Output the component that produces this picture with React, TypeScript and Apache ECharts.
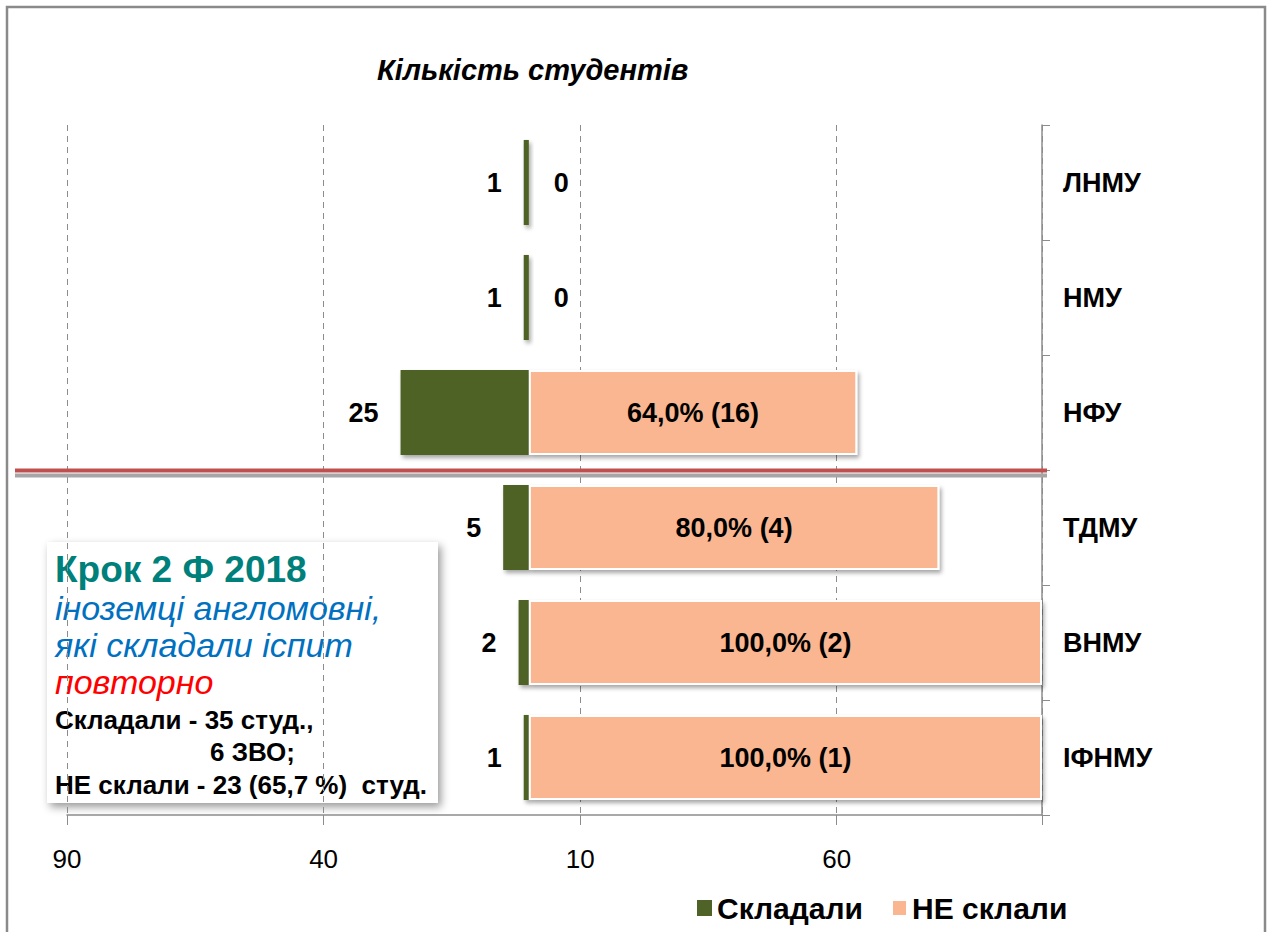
import React, { useEffect, useRef } from "react";
import * as echarts from "echarts";

const categories = ["ЛНМУ", "НМУ", "НФУ", "ТДМУ", "ВНМУ", "ІФНМУ"];
const tookExam = [1, 1, 25, 5, 2, 1];
const failedCount = [0, 0, 16, 4, 2, 1];
const failedPct = [0, 0, 64.0, 80.0, 100.0, 100.0];
const seriesNames = ["Складали", "НЕ склали"];
const axisMin = -90;
const axisMax = 100;
const axisStep = 50;
const chartTitle = "Кількість студентів";
const boxLines = [
  "Крок 2 Ф 2018",
  "іноземці англомовні,",
  "які складали іспит",
  "повторно",
  "Складали - 35 студ.,",
  "6 ЗВО;",
  "НЕ склали - 23 (65,7 %)  студ.",
];

const FONT = "'Liberation Sans', Arial, sans-serif";
const GREEN = "#4F6228";
const SALMON = "#F9B690";

export default function App() {
  const ref = useRef<HTMLDivElement>(null);

  useEffect(() => {
    if (!ref.current) return;
    const chart = echarts.init(ref.current, null, { renderer: "svg" });
    const shadow = {
      shadowBlur: 4,
      shadowOffsetX: 2,
      shadowOffsetY: 3,
      shadowColor: "rgba(0,0,0,0.35)",
    };
    const boxText = (
      text: string,
      x: number,
      y: number,
      size: number,
      color: string,
      italic: boolean,
      bold: boolean
    ) => ({
      type: "text",
      x,
      y,
      style: {
        text,
        fontFamily: FONT,
        fontSize: size,
        fontStyle: italic ? "italic" : "normal",
        fontWeight: bold ? "bold" : "normal",
        fill: color,
        verticalAlign: "middle",
      },
    });
    const option: any = {
      animation: false,
      backgroundColor: "#ffffff",
      title: {
        text: chartTitle,
        left: 372,
        top: 50,
        textStyle: {
          fontFamily: FONT,
          fontSize: 29,
          fontStyle: "italic",
          fontWeight: "bold",
          color: "#000",
        },
      },
      legend: {
        left: 692,
        top: 888,
        itemWidth: 15,
        itemHeight: 16,
        itemGap: 28,
        icon: "rect",
        data: seriesNames,
        textStyle: {
          fontFamily: FONT,
          fontSize: 30,
          fontWeight: "bold",
          color: "#000",
        },
      },
      grid: { left: 67, right: 228, top: 125, bottom: 117, containLabel: false },
      xAxis: {
        type: "value",
        min: axisMin,
        max: axisMax,
        interval: axisStep,
        axisLine: { show: true, lineStyle: { color: "#8C8C8C", width: 1.5 } },
        axisTick: { show: true, length: 10, lineStyle: { color: "#8C8C8C" } },
        axisLabel: {
          margin: 31,
          fontFamily: FONT,
          fontSize: 26,
          color: "#000",
          formatter: (v: number) => (v === axisMax ? "" : String(Math.abs(v))),
        },
        splitLine: {
          show: true,
          lineStyle: { color: "#8C8C8C", type: [6, 5], width: 1 },
        },
      },
      yAxis: {
        type: "category",
        data: categories,
        inverse: true,
        position: "right",
        axisLine: {
          show: true,
          onZero: false,
          lineStyle: { color: "#8C8C8C", width: 1.5 },
        },
        axisTick: { show: true, length: 8, lineStyle: { color: "#8C8C8C" } },
        axisLabel: {
          margin: 21,
          fontFamily: FONT,
          fontSize: 27,
          fontWeight: "bold",
          color: "#000",
        },
        splitLine: { show: false },
      },
      series: [
        {
          name: seriesNames[0],
          type: "bar",
          barWidth: "74%",
          barGap: "-100%",
          data: tookExam.map((v) => -v),
          itemStyle: { color: GREEN, ...shadow },
          label: {
            show: true,
            position: "left",
            distance: 22,
            fontFamily: FONT,
            fontSize: 27,
            fontWeight: "bold",
            color: "#000",
            formatter: (p: any) => String(Math.abs(p.value)),
          },
        },
        {
          name: seriesNames[1],
          type: "bar",
          barWidth: "74%",
          barGap: "-100%",
          data: failedPct.map((v) =>
            v === 0
              ? { value: v, label: { position: "right", distance: 24 } }
              : { value: v }
          ),
          itemStyle: {
            color: SALMON,
            borderColor: "#ffffff",
            borderWidth: 2,
            ...shadow,
          },
          label: {
            show: true,
            position: "inside",
            fontFamily: FONT,
            fontSize: 27,
            fontWeight: "bold",
            color: "#000",
            formatter: (p: any) => {
              const v = failedPct[p.dataIndex];
              if (v === 0) return "0";
              return `${v.toFixed(1).replace(".", ",")}% (${failedCount[p.dataIndex]})`;
            },
          },
        },
      ],
      graphic: [
        {
          type: "rect",
          z: 100,
          silent: true,
          shape: { x: 7, y: 7, width: 1258, height: 950 },
          style: { fill: "rgba(0,0,0,0)", stroke: "#8A8A8A", lineWidth: 2.5 },
        },
        {
          type: "line",
          z: 50,
          shape: { x1: 15, y1: 475.5, x2: 1047, y2: 475.5 },
          style: { stroke: "#A6A6A6", lineWidth: 4 },
        },
        {
          type: "line",
          z: 51,
          shape: { x1: 15, y1: 470.5, x2: 1047, y2: 470.5 },
          style: { stroke: "#C0504D", lineWidth: 4 },
        },
        {
          type: "group",
          z: 60,
          children: [
            {
              type: "rect",
              shape: { x: 47, y: 542, width: 391, height: 261 },
              style: {
                fill: "#ffffff",
                shadowBlur: 8,
                shadowOffsetX: 3,
                shadowOffsetY: 4,
                shadowColor: "rgba(0,0,0,0.4)",
              },
            },
            boxText(boxLines[0], 55, 569, 37, "#00807A", false, true),
            boxText(boxLines[1], 55, 608, 34, "#0070C0", true, false),
            boxText(boxLines[2], 55, 645, 34, "#0070C0", true, false),
            boxText(boxLines[3], 55, 682, 34, "#FF0000", true, false),
            boxText(boxLines[4], 55, 720, 26, "#000000", false, true),
            boxText(boxLines[5], 210, 752, 26, "#000000", false, true),
            boxText(boxLines[6], 55, 785, 26, "#000000", false, true),
          ],
        },
      ],
    };
    chart.setOption(option);
    return () => chart.dispose();
  }, []);

  return (
    <div
      ref={ref}
      style={{ position: "fixed", left: 0, top: 0, width: 1270, height: 932 }}
    />
  );
}
